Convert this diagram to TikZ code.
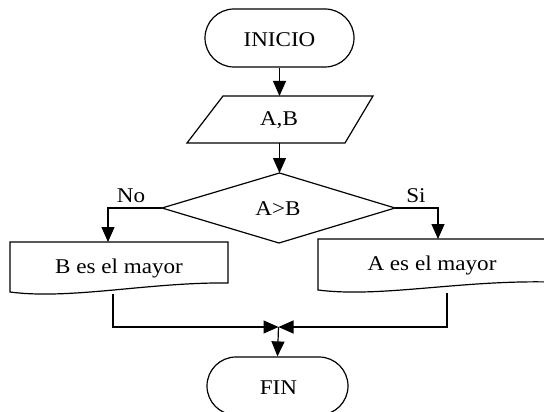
\documentclass[tikz,border=0pt]{standalone}
\usepackage{fontspec}
\setmainfont{Liberation Serif}
\usetikzlibrary{shapes.misc,arrows.meta}
\newcommand\flabel[1]{\scalebox{1.1}[1]{#1}}
\tikzset{
  box/.style={draw,line width=1.2pt},
  term/.style={box,rounded rectangle,minimum height=58pt,inner sep=0pt},
  txt/.style={font=\fontsize{21}{24}\selectfont,inner sep=0pt},
  flow/.style={line width=1.2pt,-{Triangle[length=15pt,width=13pt]}},
}
\begin{document}
\begin{tikzpicture}[x=1pt,y=-1pt]
\useasboundingbox (0,0) rectangle (544,412);
\clip (0,0) rectangle (544,412);

% start / end terminals
\node[term,minimum width=149pt] (ini) at (279.5,38) {};
\node[txt] at (279.5,40) {\flabel{INICIO}};
\node[term,minimum width=141pt] (fin) at (277.5,386) {};
\node[txt] at (278.5,388) {\flabel{FIN}};

% input parallelogram
\draw[box,line join=miter] (223,96) -- (373,96) -- (345,143) -- (187,143) -- cycle;
\coordinate (inT) at (279.5,96);
\coordinate (inB) at (279.5,143);
\node[txt] (inp) at (279,120) {\flabel{A,B}};

% decision
\coordinate (dT) at (279.5,173);
\coordinate (dR) at (395,208);
\coordinate (dB) at (279,243);
\coordinate (dL) at (162,208);
\draw[box] (dT) -- (dR) -- (dB) -- (dL) -- cycle;
\node[txt] (cond) at (278,209) {\flabel{A>B}};
\node[txt] (no) at (131,196) {\flabel{No}};
\node[txt] (si) at (416,196) {\flabel{Si}};

% output documents
\draw[box] (10,292) -- (10,242) -- (228,242) -- (228,283)
  .. controls (150,282) and (70,300) .. cycle;
\coordinate (lT) at (108,242);
\coordinate (lB) at (113,293.5);
\node[txt] (bmay) at (119,268) {\flabel{B es el mayor}};

\draw[box] (550,282) .. controls (460,280) and (380,298) .. (318,290)
  -- (318,239) -- (550,239);
\coordinate (rT) at (438,239);
\coordinate (rB) at (447,292.5);
\node[txt] (amay) at (432,265) {\flabel{A es el mayor}};

% junction
\coordinate (j) at (278.5,327);

% connectors
\draw[flow] (ini.south) -- (inT);
\draw[flow] (inB) -- (dT);
\draw[flow] (dL) -| (lT);
\draw[flow] (dR) -| (rT);
\draw[flow] (lB) |- (j);
\draw[flow] (rB) |- (j);
\draw[flow] (j) -- (fin.north);
\end{tikzpicture}
\end{document}
